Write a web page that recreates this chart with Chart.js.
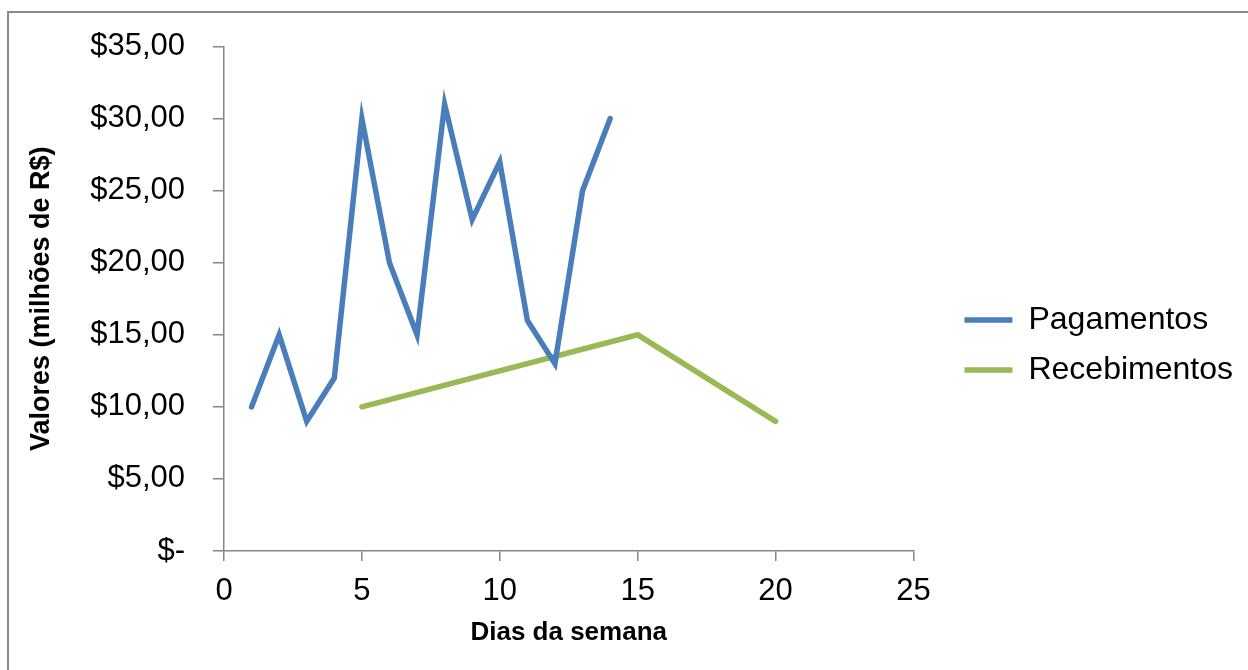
<!DOCTYPE html>
<html>
<head>
<meta charset="utf-8">
<script src="https://cdn.jsdelivr.net/npm/chart.js@4.4.1/dist/chart.umd.min.js"></script>
<style>
    body { margin: 0; background: #fff; }
    #wrap { position: relative; width: 1248px; height: 670px; overflow: hidden; }
    #frame { position: absolute; left: 7px; top: 11px; width: 1260px; height: 680px;
             border-left: 2px solid #8a8a8a; border-top: 2px solid #8a8a8a; pointer-events: none; }
</style>
</head>
<body>
<div id="wrap">
    <canvas id="grafico" width="1248" height="670"></canvas>
    <div id="frame"></div>
</div>
<script>
// Dados
const pagamentosDias = [1, 2, 3, 4, 5, 6, 7, 8, 9, 10, 11, 12, 13, 14];
const pagamentosValores = [10, 15, 9, 12, 30, 20, 15, 31, 23, 27, 16, 13, 25, 30];
const recebimentosDias = [5, 15, 20];
const recebimentosValores = [10, 15, 9];

const xMin = 0, xMax = 25, xStep = 5;
const yMin = 0, yMax = 35, yStep = 5;

const azul = '#4a7ebb';
const verde = '#98b954';
const cinza = '#868686';
const fonte = "'Liberation Sans', Arial, sans-serif";

// formato contábil do Excel: 0 vira "$-"
function formatarReais(v) {
    if (v === 0) return '$-';
    return '$' + v.toFixed(2).replace('.', ',');
}

const pontos = (xs, ys) => xs.map((x, i) => ({ x: x, y: ys[i] }));

const ctx = document.getElementById('grafico').getContext('2d');
new Chart(ctx, {
    type: 'line',
    data: {
        datasets: [
            {
                label: 'Pagamentos',
                data: pontos(pagamentosDias, pagamentosValores),
                borderColor: azul,
                backgroundColor: azul,
                borderWidth: 5.5,
                borderCapStyle: 'round',
                pointRadius: 0,
                tension: 0,
            },
            {
                label: 'Recebimentos',
                data: pontos(recebimentosDias, recebimentosValores),
                borderColor: verde,
                backgroundColor: verde,
                borderWidth: 5.5,
                borderCapStyle: 'round',
                pointRadius: 0,
                tension: 0,
            },
        ],
    },
    options: {
        responsive: false,
        animation: false,
        layout: { padding: { top: 20, right: 5, bottom: 0, left: 0 } },
        scales: {
            x: {
                type: 'linear',
                min: xMin,
                max: xMax,
                afterFit: (s) => { s.height = 119; },
                ticks: { stepSize: xStep, color: '#000', padding: 12, font: { family: fonte, size: 31 } },
                grid: { display: true, drawOnChartArea: false, tickLength: 10, color: cinza, lineWidth: 1.5 },
                border: { display: true, color: cinza, width: 1.5 },
                title: {
                    display: true,
                    text: 'Dias da semana',
                    color: '#000',
                    padding: { top: 0, bottom: 22 },
                    font: { family: fonte, size: 26, weight: 'bold' },
                },
            },
            y: {
                type: 'linear',
                min: yMin,
                max: yMax,
                afterFit: (s) => { s.width = 224; },
                ticks: { stepSize: yStep, color: '#000', padding: 28, font: { family: fonte, size: 31 }, callback: formatarReais },
                grid: { display: true, drawOnChartArea: false, tickLength: 11, color: cinza, lineWidth: 1.5 },
                border: { display: true, color: cinza, width: 1.5 },
                title: {
                    display: true,
                    text: 'Valores (milhões de R$)',
                    color: '#000',
                    padding: { top: 25, bottom: 0 },
                    font: { family: fonte, size: 27, weight: 'bold' },
                },
            },
            // espaço vazio entre o gráfico e a legenda
            espaco: {
                type: 'linear',
                position: 'right',
                display: true,
                afterFit: (s) => { s.width = 33; },
                ticks: { display: false },
                grid: { display: false },
                border: { display: false },
            },
        },
        plugins: {
            title: {
                display: true,
                text: '',
                font: { size: 10, lineHeight: 1 },
                padding: { top: 13, bottom: 0 },
            },
            tooltip: { enabled: false },
            legend: {
                position: 'right',
                maxWidth: 330,
                labels: {
                    usePointStyle: true,
                    pointStyle: 'line',
                    pointStyleWidth: 48,
                    padding: 18,
                    color: '#000',
                    font: { family: fonte, size: 32 },
                },
            },
        },
    },
});
</script>
</body>
</html>
